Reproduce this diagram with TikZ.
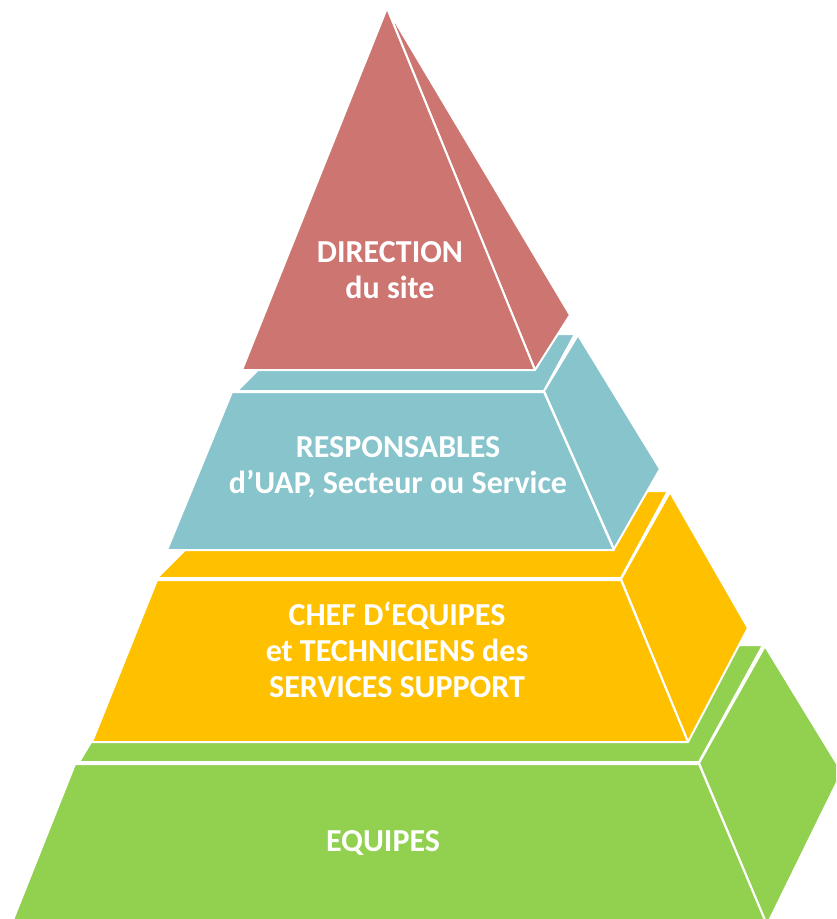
\documentclass[tikz,border=0pt]{standalone}
\usepackage{fontspec}
\setmainfont{Carlito}
\definecolor{redtier}{RGB}{205,117,113}
\definecolor{tealtier}{RGB}{136,196,204}
\definecolor{yellowtier}{RGB}{255,192,0}
\definecolor{greentier}{RGB}{146,208,80}
\tikzset{tier/.style={draw=white,line width=2pt,line join=round}}
\begin{document}
\begin{tikzpicture}[x=1pt,y=-1pt]
	\useasboundingbox (0,0) rectangle (836,919);
	\clip (0,0) rectangle (836,919);
	
	% EQUIPES
	\filldraw[tier,fill=greentier] (79,762) -- (150,645) -- (763,645) -- (699,762) -- cycle;
	\filldraw[tier,fill=greentier] (699,763) -- (765,646) -- (842,772) -- (767,925) -- cycle;
	\filldraw[tier,fill=greentier] (75,764) -- (699,764) -- (767,925) -- (11,925) -- cycle;
	
	% chefs d'equipes
	\filldraw[tier,fill=yellowtier] (157,578) -- (244,491) -- (668,491) -- (621,578) -- cycle;
	\filldraw[tier,fill=yellowtier] (621,579) -- (670,492) -- (748,628) -- (688,742) -- cycle;
	\filldraw[tier,fill=yellowtier] (157,580) -- (621,580) -- (688,742) -- (92,742) -- cycle;
	
	% responsables
	\filldraw[tier,fill=tealtier] (237,391) -- (294,334) -- (575,334) -- (544,391) -- cycle;
	\filldraw[tier,fill=tealtier] (544,391) -- (578,335) -- (660,469) -- (614,549) -- cycle;
	\filldraw[tier,fill=tealtier] (232,392) -- (544,392) -- (614,550) -- (167,550) -- cycle;
	
	% direction
	\filldraw[tier,fill=redtier] (387,8) -- (570,315) -- (535,370) -- cycle;
	\filldraw[tier,fill=redtier] (387,8) -- (535,370) -- (242,370) -- cycle;
	
	\begin{scope}[every node/.style={text=white,font=\bfseries\fontsize{32}{36}\selectfont,align=center,inner sep=0pt}]
		\node (direction) at (390,270) {DIRECTION\\du site};
		\node (responsables) at (398,467) {RESPONSABLES\\d’UAP, Secteur ou Service};
		\node (chefs) at (397,650) {CHEF D‘EQUIPES\\et TECHNICIENS des\\SERVICES SUPPORT};
		\node (equipes) at (383,843) {EQUIPES};
	\end{scope}
\end{tikzpicture}
\end{document}
